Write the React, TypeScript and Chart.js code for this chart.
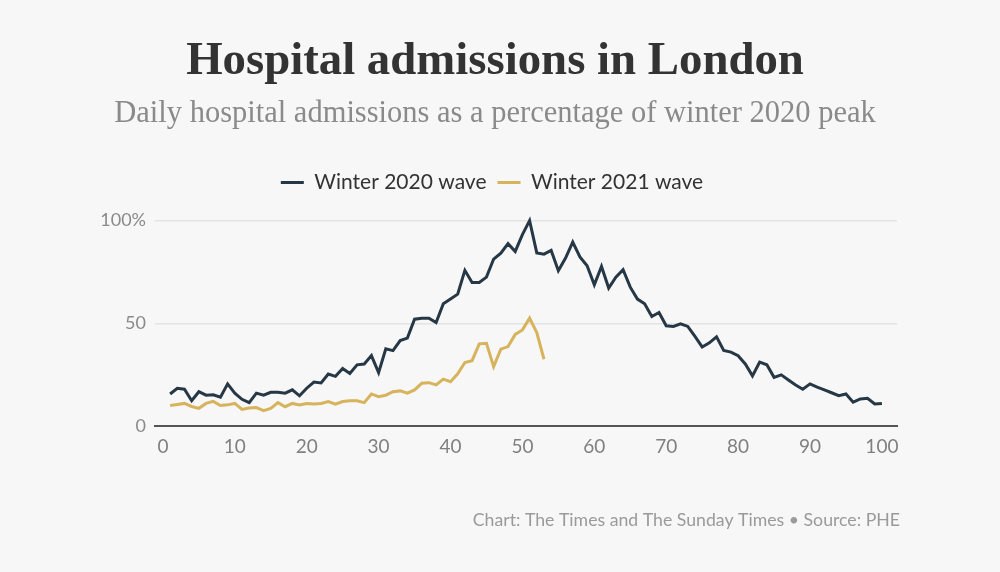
import React, { useEffect, useRef } from "react";
import { Chart, registerables } from "chart.js";

Chart.register(...registerables);

const days: number[] = Array.from({ length: 100 }, (_, i) => i + 1);

const winter2020: number[] = [
  15.6, 18.4, 17.9, 12.3, 16.7, 15, 15.2, 14, 20.5, 16,
  13, 11.4, 16, 15, 16.4, 16.4, 16, 17.6, 14.7, 18.4,
  21.4, 21, 25.3, 24.2, 28, 25.6, 29.8, 30.2, 34.3, 26,
  37.6, 36.7, 41.6, 42.8, 52, 52.5, 52.5, 50.4, 59.5, 61.8,
  64.2, 75.8, 69.9, 69.9, 72.5, 81.3, 84.2, 88.8, 85, 93.2,
  100, 84.3, 83.7, 85.5, 75.6, 81.8, 89.6, 82.3, 78, 68.8,
  77.7, 67.2, 72.5, 76.1, 67.6, 61.8, 59.5, 53.3, 55.3, 48.8,
  48.5, 49.8, 48.5, 43.6, 38.5, 40.5, 43.4, 36.8, 36, 34.2,
  30.2, 24.4, 31.1, 29.8, 23.7, 24.9, 22.4, 20, 17.9, 20.5,
  18.9, 17.6, 16.2, 14.8, 15.6, 11.6, 13.2, 13.5, 10.7, 11,
];

const winter2021: (number | null)[] = [
  10, 10.5, 11, 9.5, 8.6, 11, 12, 10, 10.3, 11,
  8.1, 8.8, 9, 7.5, 8.6, 11.4, 9.4, 11, 10.3, 11,
  10.7, 11, 11.9, 10.6, 11.9, 12.3, 12.3, 11.4, 15.6, 14.3,
  15, 16.7, 17.1, 16, 17.6, 20.8, 21.1, 20, 22.8, 21.6,
  25.4, 30.9, 31.8, 40, 40.3, 28.9, 37.4, 38.7, 44.6, 46.8,
  52.5, 45.5, 32.5,
];

const xTicks: number[] = [0, 10, 20, 30, 40, 50, 60, 70, 80, 90, 100];
const yTicks: number[] = [0, 50, 100];

const seriesLabels: string[] = ["Winter 2020 wave", "Winter 2021 wave"];
const seriesColors: string[] = ["#263745", "#d6b35c"];

const titleText = "Hospital admissions in London";
const subtitleText = "Daily hospital admissions as a percentage of winter 2020 peak";
const footerText = "Chart: The Times and The Sunday Times \u2022 Source: PHE";

const textPlugin = {
  id: "textPlugin",
  afterDraw(chart: any) {
    const ctx = chart.ctx as CanvasRenderingContext2D;
    ctx.save();
    ctx.textAlign = "center";
    ctx.textBaseline = "alphabetic";
    ctx.fillStyle = "#333333";
    ctx.font = "bold 46.8px 'Liberation Serif', 'DejaVu Serif', serif";
    ctx.fillText(titleText, 495, 74);
    ctx.fillStyle = "#8a8a8a";
    ctx.font = "30.5px 'Liberation Serif', 'DejaVu Serif', serif";
    ctx.fillText(subtitleText, 495, 122);
    ctx.textAlign = "right";
    ctx.fillStyle = "#9a9a9a";
    ctx.font = "17.7px Lato, 'Noto Sans', sans-serif";
    ctx.fillText(footerText, 900, 526);
    ctx.restore();
  },
};

export default function App() {
  const ref = useRef<HTMLCanvasElement | null>(null);

  useEffect(() => {
    if (!ref.current) return;
    const chart = new Chart(ref.current, {
      type: "line",
      data: {
        labels: days,
        datasets: [
          {
            label: seriesLabels[0],
            data: winter2020,
            borderColor: seriesColors[0],
            backgroundColor: seriesColors[0],
            borderWidth: 3,
            pointRadius: 0,
            tension: 0,
          },
          {
            label: seriesLabels[1],
            data: winter2021,
            borderColor: seriesColors[1],
            backgroundColor: seriesColors[1],
            borderWidth: 3,
            pointRadius: 0,
            tension: 0,
          },
        ],
      },
      options: {
        animation: false,
        responsive: false,
        maintainAspectRatio: false,
        layout: {
          padding: { top: 161, right: 103, bottom: 0, left: 87 },
        },
        plugins: {
          title: { display: false },
          tooltip: { enabled: false },
          legend: {
            display: true,
            position: "top",
            labels: {
              boxWidth: 23,
              boxHeight: 3,
              padding: 11,
              color: "#333333",
              font: { family: "Lato, 'Noto Sans', sans-serif", size: 21 },
              generateLabels: (c: any) =>
                c.data.datasets.map((ds: any, i: number) => ({
                  text: ds.label,
                  fillStyle: ds.borderColor,
                  strokeStyle: ds.borderColor,
                  lineWidth: 0,
                  hidden: false,
                  datasetIndex: i,
                  fontColor: "#333333",
                })),
            },
          },
        },
        scales: {
          x: {
            type: "linear",
            min: -1.1,
            max: 102.1,
            afterBuildTicks: (scale: any) => {
              scale.ticks = xTicks.map((v) => ({ value: v }));
            },
            afterFit: (scale: any) => {
              scale.height = 146;
            },
            grid: { display: false, drawTicks: false },
            border: { display: true, color: "#555555", width: 2 },
            ticks: {
              padding: 9,
              color: "#808080",
              font: { family: "Lato, 'Noto Sans', sans-serif", size: 19 },
              maxRotation: 0,
              autoSkip: false,
            },
          },
          y: {
            type: "linear",
            min: 0,
            max: 108.6,
            afterBuildTicks: (scale: any) => {
              scale.ticks = yTicks.map((v) => ({ value: v }));
            },
            afterFit: (scale: any) => {
              scale.width = 68;
            },
            grid: { color: "#e3e3e3", lineWidth: 1.5, drawTicks: false },
            border: { display: false },
            ticks: {
              padding: 9,
              color: "#8a8a8a",
              font: { family: "Lato, 'Noto Sans', sans-serif", size: 18 },
              callback: (v: any) => (v === 100 ? "100%" : String(v)),
            },
          },
        },
      },
      plugins: [textPlugin],
    } as any);
    return () => chart.destroy();
  }, []);

  return (
    <div
      style={{
        position: "fixed",
        left: 0,
        top: 0,
        width: 1000,
        height: 572,
        background: "#f7f7f7",
      }}
    >
      <canvas ref={ref} width={1000} height={572} style={{ display: "block" }} />
    </div>
  );
}
